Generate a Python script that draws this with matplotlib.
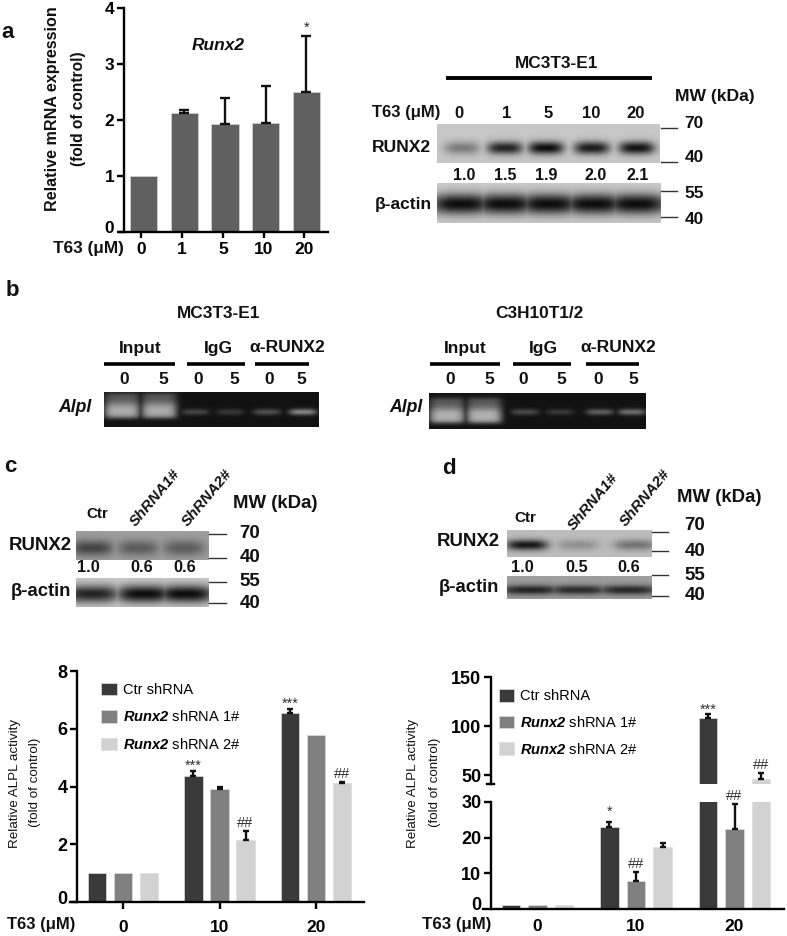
import numpy as np
import matplotlib
matplotlib.use("Agg")
import matplotlib.pyplot as plt
from matplotlib.transforms import ScaledTranslation

plt.rcParams['font.family'] = ['Liberation Sans', 'DejaVu Sans']
plt.rcParams['mathtext.fontset'] = 'custom'
plt.rcParams['mathtext.it'] = 'Liberation Sans:italic:bold'
plt.rcParams['mathtext.rm'] = 'Liberation Sans:italic:bold'

W, H = 787, 936

# ---------- data ----------
a_doses = ['0', '1', '5', '10', '20']
a_vals = [1.0, 2.12, 1.93, 1.95, 2.5]
a_errs = [0.0, 0.05, 0.47, 0.65, 1.0]

groups = ['0', '10', '20']
series = ['Ctr shRNA', r'$\mathrm{Runx2}$ shRNA 1#', r'$\mathrm{Runx2}$ shRNA 2#']
colors = ['#3a3a3a', '#808080', '#d2d2d2']

c_vals = [[1, 4.35, 6.55], [1, 3.93, 5.8], [1, 2.15, 4.12]]
c_errs = [[0, 0.2, 0.15], [0, 0.05, 0.0], [0, 0.3, 0.04]]
c_marks = [['', '***', '***'], ['', '', ''], ['', '##', '##']]

d_vals = [[1, 23, 108], [1, 7.8, 22.5], [1, 17.3, 46]]
d_errs = [[0, 1.3, 4], [0, 2.7, 7], [0, 1.2, 6]]
d_marks = [['', '*', '***'], ['', '##', '##'], ['', '', '##']]

# blot band strength per lane
a_runx2 = [0.4, 0.88, 1.0, 0.92, 0.97]
a_actin = [1.0, 1.0, 1.0, 1.0, 1.0]
b_left = [0.6, 0.6, 0.2, 0.15, 0.24, 0.45]
b_right = [0.62, 0.62, 0.22, 0.15, 0.3, 0.36]
c_runx2 = [0.62, 0.45, 0.45]
c_actin = [0.88, 1.0, 1.0]
d_runx2 = [0.95, 0.25, 0.42]
d_actin = [0.85, 0.8, 0.82]

MARK_OFFSET = {'*': 11, '***': 5, '##': 8}

fig = plt.figure(figsize=(W / 100, H / 100), dpi=100, facecolor='white')


def px_axes(l, t, r, b):
    return fig.add_axes([l / W, 1 - b / H, (r - l) / W, (b - t) / H])


ov = fig.add_axes([0, 0, 1, 1], zorder=5)
ov.patch.set_alpha(0)
ov.axis('off')


def T(x, y, s, size=12.5, weight='bold', style='normal', rot=0, color='#111111', ha='center'):
    ov.text(x, y, s, fontsize=size, fontweight=weight, fontstyle=style, rotation=rot,
            ha=ha, va='center', color=color, rotation_mode='anchor' if rot else 'default')


def blot(box, lanes, amps, yc, sx, sy, bg, fg=0.05):
    l, t, r, b = box
    nx, ny = (r - l) * 2, (b - t) * 2
    X, Y = np.meshgrid(np.linspace(l, r, nx), np.linspace(t, b, ny))
    sig = np.zeros_like(X)
    for xc, amp in zip(lanes, amps):
        g = amp * np.exp(-(np.abs(X - xc) / sx) ** 3.5) * np.exp(-((Y - yc) / sy) ** 2)
        sig = np.maximum(sig, g)
    img = bg + (fg - bg) * np.clip(sig, 0, 1)
    ov.imshow(img, extent=(l, r, b, t), cmap='gray', vmin=0, vmax=1, aspect='auto',
              interpolation='bilinear', zorder=1)


def ticks(x0, x1, ys):
    for y in ys:
        ov.plot([x0, x1], [y, y], color='#333333', lw=1)


def hline(x0, x1, y, lw=2.6):
    ov.plot([x0, x1], [y, y], color='black', lw=lw, solid_capstyle='butt')


def style(ax, width=1.7):
    for s in ['top', 'right']:
        ax.spines[s].set_visible(False)
    for s in ['left', 'bottom']:
        ax.spines[s].set_linewidth(width)
    ax.patch.set_alpha(0)


def err(ax, xs, vals, errs, capsize):
    xs, vals, errs = np.asarray(xs, float), np.asarray(vals, float), np.asarray(errs, float)
    keep = errs > 0
    if keep.any():
        ax.errorbar(xs[keep], vals[keep], yerr=[np.zeros(keep.sum()), errs[keep]], fmt='none',
                    ecolor='#111111', elinewidth=1.7, capsize=capsize, capthick=1.7)


def mark(ax, xp, yv, s):
    ax.annotate(s, (xp, yv), xytext=(0, MARK_OFFSET[s] * 0.72), textcoords='offset points',
                ha='center', va='center', fontsize=10.5, color='#333333', annotation_clip=False)


def raise_zero(ax, size):
    for lab in ax.get_yticklabels():
        lab.set_fontweight('bold')
        lab.set_fontsize(size)
        if lab.get_text() == '0':
            lab.set_transform(lab.get_transform() + ScaledTranslation(0, 5 / 100, fig.dpi_scale_trans))


# ---------- panel a chart ----------
ax = px_axes(120, 8, 328, 232)
x = np.arange(5)
ax.bar(x, a_vals, width=0.67, color='#606060', edgecolor='#cfcfcf', linewidth=0.6)
err(ax, x, a_vals, a_errs, 3.5)
ax.set_xlim((120 - 143.5) / 40.7, (328 - 143.5) / 40.7)
ax.set_ylim(0, 4)
ax.set_yticks(range(5))
ax.set_xticks(x - 0.05, a_doses)
style(ax)
ax.spines['left'].set_position(('data', (124 - 143.5) / 40.7))
ax.tick_params(axis='both', width=1.7, length=5, labelsize=12.5, pad=2)
ax.tick_params(axis='x', length=4, pad=3)
for lab in ax.get_xticklabels():
    lab.set_fontweight('bold')
raise_zero(ax, 12.5)
ax.annotate('*', (4, 3.52), xytext=(0, 5), textcoords='offset points', ha='center', va='center',
            fontsize=10.5, color='#222222', annotation_clip=False)

T(53, 109, 'Relative mRNA expression', size=11.6, rot=90)
T(78, 109, '(fold of control)', size=11.2, rot=90)
T(218, 45, 'Runx2', size=12.5, style='italic')
T(88, 248, 'T63 (μM)', size=12.4)
T(8, 33, 'a', size=16)

# ---------- panel a blot ----------
T(557, 63, 'MC3T3-E1', size=12.4)
hline(446, 652, 78, lw=2.8)
T(715, 96, 'MW (kDa)', size=12.6)
T(406, 113, 'T63 (μM)', size=12)
for xp, s in zip([459, 507, 548, 591, 636], a_doses):
    T(xp, 113, s, size=12)
T(401, 147, 'RUNX2', size=12.6)
T(403, 205, 'β-actin', size=12.5)
for xp, s in zip([464, 505, 546, 596, 638], ['1.0', '1.5', '1.9', '2.0', '2.1']):
    T(xp, 175, s, size=11.6)
blot((437, 124, 660, 163), [462, 505, 546, 592, 637], a_runx2, 148, 18, 6.5, 0.78)
blot((437, 183, 661, 223), [461, 505, 549, 594, 637], a_actin, 204, 30, 10.5, 0.8)
ticks(661, 677, [128, 162, 191, 217])
for y, s in zip([123, 157, 193, 220], ['70', '40', '55', '40']):
    T(694, y, s, size=12.5)

# ---------- panel b ----------
T(12, 290, 'b', size=16)
T(219, 314, 'MC3T3-E1', size=12.4)
T(539, 314, 'C3H10T1/2', size=12.4)
for xs, names in [([140, 218, 287], ['Input', 'IgG', 'α-RUNX2']),
                  ([465, 543, 618], ['Input', 'IgG', 'α-RUNX2'])]:
    for xp, s in zip(xs, names):
        T(xp, 348, s, size=12.6)
for a0, a1 in [(104, 175), (187, 245), (255, 309), (430, 500), (513, 571), (586, 639)]:
    hline(a0, a1, 364)
for xs in ([124, 163, 198, 234, 269, 301], [450, 489, 523, 561, 598, 633]):
    for xp, s in zip(xs, ['0', '5', '0', '5', '0', '5']):
        T(xp, 379, s, size=12.5)
T(75, 407, 'Alpl', size=12.7, style='italic')
T(406, 407, 'Alpl', size=12.7, style='italic')


def gel(box, centers, amps, y_in, y_weak):
    l, t, r, b = box
    nx, ny = (r - l) * 2, (b - t) * 2
    X, Y = np.meshgrid(np.linspace(l, r, nx), np.linspace(t, b, ny))
    sig = np.zeros_like(X)
    for i, (xc, amp) in enumerate(zip(centers, amps)):
        if i < 2:
            dy = Y - y_in
            prof = np.where(dy > 0, np.exp(-(dy / 8.5) ** 4),
                            0.4 + 0.6 * np.exp(-(dy / 8) ** 2))
            prof = prof * np.where(dy < -14, np.exp(-((dy + 14) / 4) ** 2), 1)
            g = amp * np.exp(-(np.abs(X - xc) / 18) ** 5) * prof
        else:
            g = amp * np.exp(-(np.abs(X - xc) / 14) ** 4) * np.exp(-((Y - y_weak) / 3.2) ** 2)
        sig = np.maximum(sig, g)
    ov.imshow(0.07 + sig, extent=(l, r, b, t), cmap='gray', vmin=0, vmax=1, aspect='auto',
              interpolation='bilinear', zorder=1)


gel((104, 392, 319, 427), [122, 159, 195, 230, 267, 303], b_left, 410, 412)
gel((429, 393, 646, 429), [447, 484, 525, 560, 600, 632], b_right, 415, 412)

# ---------- panel c blot ----------
T(10, 467, 'c', size=16)
T(97, 514, 'Ctr', size=11)
T(155, 498, 'ShRNA1#', size=11, style='italic', rot=50)
T(207, 498, 'ShRNA2#', size=11, style='italic', rot=50)
T(275, 503, 'MW (kDa)', size=13.4)
T(40, 546, 'RUNX2', size=13.4)
T(41, 592, 'β-actin', size=13.3)
for xp, s in zip([88, 142, 185], ['1.0', '0.6', '0.6']):
    T(xp, 568, s, size=11.7)
blot((76, 531, 209, 560), [92, 138, 184], c_runx2, 548, 21, 8, 0.62)
blot((76, 578, 209, 607), [92, 144, 186], c_actin, 594, 28, 9, 0.8)
ticks(209, 226, [534, 558, 582, 603])
for y, s in zip([533, 558, 582, 603], ['70', '40', '55', '40']):
    T(250, y, s, size=13.5)

# ---------- panel d blot ----------
T(449, 468, 'd', size=16)
T(525, 518, 'Ctr', size=11)
T(593, 502, 'ShRNA1#', size=11, style='italic', rot=50)
T(645, 498, 'ShRNA2#', size=11, style='italic', rot=50)
T(719, 497, 'MW (kDa)', size=13.4)
T(468, 542, 'RUNX2', size=13.4)
T(469, 587, 'β-actin', size=13.3)
for xp, s in zip([522, 577, 629], ['1.0', '0.5', '0.6']):
    T(xp, 567, s, size=11.7)
blot((507, 530, 652, 557), [527, 578, 635], d_runx2, 545, 21, 5.5, 0.74)
blot((507, 576, 652, 599), [530, 578, 628], d_actin, 590, 30, 5, 0.62)
ticks(652, 668, [532, 551, 575, 596])
for y, s in zip([526, 551, 575, 596], ['70', '40', '55', '40']):
    T(695, y, s, size=13.5)

# ---------- panel c chart ----------
axc = px_axes(70, 671, 364, 902)
cx = np.arange(3)
off = 0.27
ulim = lambda p: (p - 123) / 96.5
handles = []
for i in range(3):
    xs = cx + (i - 1) * off
    h = axc.bar(xs, c_vals[i], width=0.19, color=colors[i], edgecolor='#dddddd',
                linewidth=0.5, label=series[i])
    handles.append(h)
    err(axc, xs, c_vals[i], c_errs[i], 2.5)
    for j in range(3):
        if c_marks[i][j]:
            mark(axc, xs[j], c_vals[i][j] + c_errs[i][j], c_marks[i][j])
axc.set_xlim(ulim(70), ulim(364))
axc.set_ylim(0, 8)
axc.set_yticks([0, 2, 4, 6, 8])
axc.set_xticks(cx, groups)
style(axc)
axc.spines['left'].set_position(('data', ulim(77)))
axc.tick_params(axis='y', width=1.7, length=5, pad=2)
axc.tick_params(axis='x', width=1.7, length=5, labelsize=12.5, pad=8)
for lab in axc.get_xticklabels():
    lab.set_fontweight('bold')
raise_zero(axc, 13)
axc.legend(handles=handles, loc='upper left', bbox_to_anchor=(0.105, 0.95), frameon=False,
           fontsize=10.5, handlelength=1.1, handleheight=0.95, handletextpad=0.42, labelspacing=0.86,
           borderpad=0, borderaxespad=0)
T(15, 783, 'Relative ALPL activity', size=9.6, weight='normal', rot=90)
T(35, 782, '(fold of control)', size=9.6, weight='normal', rot=90)
T(41, 925, 'T63 (μM)', size=12)

# ---------- panel d chart (broken axis) ----------
scale = lambda p: (p - 537.5) / 98.5
low = px_axes(483, 802, 784, 909)
top = px_axes(483, 677, 784, 784)
handles = []
for i in range(3):
    xs = cx + (i - 1) * 0.27
    h = low.bar(xs, d_vals[i], width=0.185, color=colors[i], edgecolor='#dddddd', linewidth=0.5,
                label=series[i])
    handles.append(h)
    top.bar(xs, d_vals[i], width=0.185, color=colors[i], edgecolor='#dddddd', linewidth=0.5)
    for axx, lo, hi in [(low, 0, 30), (top, 41, 150)]:
        keep = [j for j in range(3) if lo < d_vals[i][j] < hi]
        err(axx, xs[keep], np.array(d_vals[i])[keep], np.array(d_errs[i])[keep], 2.5)
    for j in range(3):
        if d_marks[i][j]:
            v = d_vals[i][j] + d_errs[i][j]
            mark(top if d_vals[i][j] > 30 else low, xs[j], v, d_marks[i][j])
for axx in (low, top):
    axx.set_xlim(scale(483), scale(784))
    style(axx)
    axx.spines['left'].set_position(('data', scale(491)))
    axx.tick_params(axis='y', width=1.7, length=5, pad=2)
low.set_ylim(0, 30)
low.set_yticks([0, 10, 20, 30])
low.set_xticks(cx, groups)
low.tick_params(axis='x', length=0, labelsize=12.5, pad=7)
for lab in low.get_xticklabels():
    lab.set_fontweight('bold')
raise_zero(low, 13)
low.get_yticklines()[0].set_visible(False)
top.set_ylim(41, 150)
top.set_yticks([50, 100, 150])
top.set_xticks([])
raise_zero(top, 13)
top.spines['bottom'].set_visible(False)
top.plot([scale(487), scale(494)], [41, 41], color='black', lw=1.7, clip_on=False)
top.legend(handles=handles, loc='upper left', bbox_to_anchor=(0.053, 0.888), frameon=False,
           fontsize=10.5, handlelength=1.05, handleheight=0.95, handletextpad=0.42, labelspacing=0.8,
           borderpad=0, borderaxespad=0)
T(413, 783, 'Relative ALPL activity', size=9.6, weight='normal', rot=90)
T(435, 782, '(fold of control)', size=9.6, weight='normal', rot=90)
T(457, 925, 'T63 (μM)', size=12.2)

ov.set_xlim(0, W)
ov.set_ylim(H, 0)
fig.savefig('out.png', dpi=100, facecolor='white')
